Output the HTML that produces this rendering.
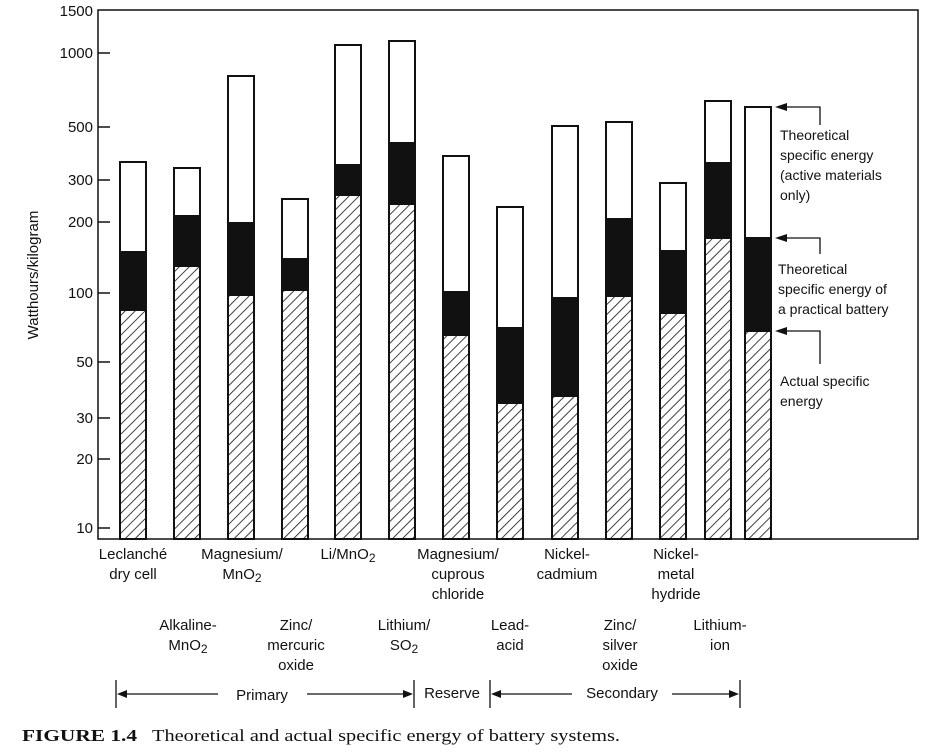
<!DOCTYPE html>
<html><head><meta charset="utf-8"><style>
body{margin:0;background:#fff;}
svg text{font-family:"Liberation Sans",sans-serif;fill:#111;}
</style></head><body>
<svg width="937" height="751" viewBox="0 0 937 751" xmlns="http://www.w3.org/2000/svg">
<defs>
<pattern id="h" patternUnits="userSpaceOnUse" width="7" height="7" patternTransform="rotate(45)">
<rect width="7" height="7" fill="#fff"/><line x1="0" y1="0" x2="0" y2="7" stroke="#111" stroke-width="1.6"/>
</pattern>
</defs>
<rect x="98" y="10" width="820" height="529" fill="none" stroke="#111" stroke-width="1.5"/>
<g stroke="#111" stroke-width="1.5">
<line x1="98" y1="528" x2="110" y2="528"/><line x1="98" y1="459" x2="110" y2="459"/>
<line x1="98" y1="418" x2="110" y2="418"/><line x1="98" y1="362" x2="110" y2="362"/>
<line x1="98" y1="293" x2="110" y2="293"/><line x1="98" y1="222" x2="110" y2="222"/>
<line x1="98" y1="180" x2="110" y2="180"/><line x1="98" y1="127" x2="110" y2="127"/>
<line x1="98" y1="53" x2="110" y2="53"/>
</g>
<g font-size="15" text-anchor="end">
<text x="93" y="533">10</text><text x="93" y="464">20</text><text x="93" y="423">30</text>
<text x="93" y="367">50</text><text x="93" y="298">100</text><text x="93" y="227">200</text>
<text x="93" y="185">300</text><text x="93" y="132">500</text><text x="93" y="58">1000</text>
<text x="93" y="16">1500</text>
</g>
<text transform="translate(38,275) rotate(-90)" font-size="15" text-anchor="middle">Watthours/kilogram</text>
<g stroke="#111" stroke-width="2">
<rect x="120" y="162" width="26" height="377" fill="#fff"/><rect x="120" y="252" width="26" height="58" fill="#111"/><rect x="120" y="310" width="26" height="229" fill="url(#h)"/>
<rect x="174" y="168" width="26" height="371" fill="#fff"/><rect x="174" y="216" width="26" height="50" fill="#111"/><rect x="174" y="266" width="26" height="273" fill="url(#h)"/>
<rect x="228" y="76" width="26" height="463" fill="#fff"/><rect x="228" y="223" width="26" height="72" fill="#111"/><rect x="228" y="295" width="26" height="244" fill="url(#h)"/>
<rect x="282" y="199" width="26" height="340" fill="#fff"/><rect x="282" y="259" width="26" height="31" fill="#111"/><rect x="282" y="290" width="26" height="249" fill="url(#h)"/>
<rect x="335" y="45" width="26" height="494" fill="#fff"/><rect x="335" y="165" width="26" height="30" fill="#111"/><rect x="335" y="195" width="26" height="344" fill="url(#h)"/>
<rect x="389" y="41" width="26" height="498" fill="#fff"/><rect x="389" y="143" width="26" height="61" fill="#111"/><rect x="389" y="204" width="26" height="335" fill="url(#h)"/>
<rect x="443" y="156" width="26" height="383" fill="#fff"/><rect x="443" y="292" width="26" height="43" fill="#111"/><rect x="443" y="335" width="26" height="204" fill="url(#h)"/>
<rect x="497" y="207" width="26" height="332" fill="#fff"/><rect x="497" y="328" width="26" height="75" fill="#111"/><rect x="497" y="403" width="26" height="136" fill="url(#h)"/>
<rect x="552" y="126" width="26" height="413" fill="#fff"/><rect x="552" y="298" width="26" height="98" fill="#111"/><rect x="552" y="396" width="26" height="143" fill="url(#h)"/>
<rect x="606" y="122" width="26" height="417" fill="#fff"/><rect x="606" y="219" width="26" height="77" fill="#111"/><rect x="606" y="296" width="26" height="243" fill="url(#h)"/>
<rect x="660" y="183" width="26" height="356" fill="#fff"/><rect x="660" y="251" width="26" height="62" fill="#111"/><rect x="660" y="313" width="26" height="226" fill="url(#h)"/>
<rect x="705" y="101" width="26" height="438" fill="#fff"/><rect x="705" y="163" width="26" height="75" fill="#111"/><rect x="705" y="238" width="26" height="301" fill="url(#h)"/>
<rect x="745" y="107" width="26" height="432" fill="#fff"/><rect x="745" y="238" width="26" height="93" fill="#111"/><rect x="745" y="331" width="26" height="208" fill="url(#h)"/>
</g>
<g stroke="#111" stroke-width="1.3" fill="none">
<polyline points="782,107 820,107 820,125"/><polyline points="782,238 820,238 820,254"/><polyline points="782,331 820,331 820,364"/>
</g>
<g fill="#111">
<polygon points="775,107 787,103 787,111"/><polygon points="775,238 787,234 787,242"/><polygon points="775,331 787,327 787,335"/>
</g>
<g font-size="14">
<text x="780" y="140">Theoretical</text><text x="780" y="160">specific energy</text><text x="780" y="180">(active materials</text><text x="780" y="200">only)</text>
<text x="778" y="274">Theoretical</text><text x="778" y="294">specific energy of</text><text x="778" y="314">a practical battery</text>
<text x="780" y="386">Actual specific</text><text x="780" y="406">energy</text>
</g>
<g font-size="15" text-anchor="middle">
<text x="133" y="559">Leclanché</text><text x="133" y="579">dry cell</text>
<text x="242" y="559">Magnesium/</text><text x="242" y="579">MnO<tspan font-size="12" dy="3">2</tspan></text>
<text x="348" y="559">Li/MnO<tspan font-size="12" dy="3">2</tspan></text>
<text x="458" y="559">Magnesium/</text><text x="458" y="579">cuprous</text><text x="458" y="599">chloride</text>
<text x="567" y="559">Nickel-</text><text x="567" y="579">cadmium</text>
<text x="676" y="559">Nickel-</text><text x="676" y="579">metal</text><text x="676" y="599">hydride</text>
<text x="188" y="630">Alkaline-</text><text x="188" y="650">MnO<tspan font-size="12" dy="3">2</tspan></text>
<text x="296" y="630">Zinc/</text><text x="296" y="650">mercuric</text><text x="296" y="670">oxide</text>
<text x="404" y="630">Lithium/</text><text x="404" y="650">SO<tspan font-size="12" dy="3">2</tspan></text>
<text x="510" y="630">Lead-</text><text x="510" y="650">acid</text>
<text x="620" y="630">Zinc/</text><text x="620" y="650">silver</text><text x="620" y="670">oxide</text>
<text x="720" y="630">Lithium-</text><text x="720" y="650">ion</text>
<text x="262" y="700">Primary</text><text x="452" y="698">Reserve</text><text x="622" y="698">Secondary</text>
</g>
<g stroke="#111" stroke-width="1.3">
<line x1="116" y1="680" x2="116" y2="708"/><line x1="414" y1="680" x2="414" y2="708"/>
<line x1="490" y1="680" x2="490" y2="708"/><line x1="740" y1="680" x2="740" y2="708"/>
<line x1="120" y1="694" x2="218" y2="694"/><line x1="307" y1="694" x2="408" y2="694"/>
<line x1="496" y1="694" x2="572" y2="694"/><line x1="672" y1="694" x2="734" y2="694"/>
</g>
<g fill="#111">
<polygon points="117,694 127,690 127,698"/><polygon points="413,694 403,690 403,698"/>
<polygon points="491,694 501,690 501,698"/><polygon points="739,694 729,690 729,698"/>
</g>
<text x="22" y="741" textLength="115" lengthAdjust="spacingAndGlyphs" style="font-family:'Liberation Serif',serif;font-size:17px;font-weight:bold;">FIGURE 1.4</text>
<text x="152" y="741" textLength="468" lengthAdjust="spacingAndGlyphs" style="font-family:'Liberation Serif',serif;font-size:17px;">Theoretical and actual specific energy of battery systems.</text>
</svg>
</body></html>
